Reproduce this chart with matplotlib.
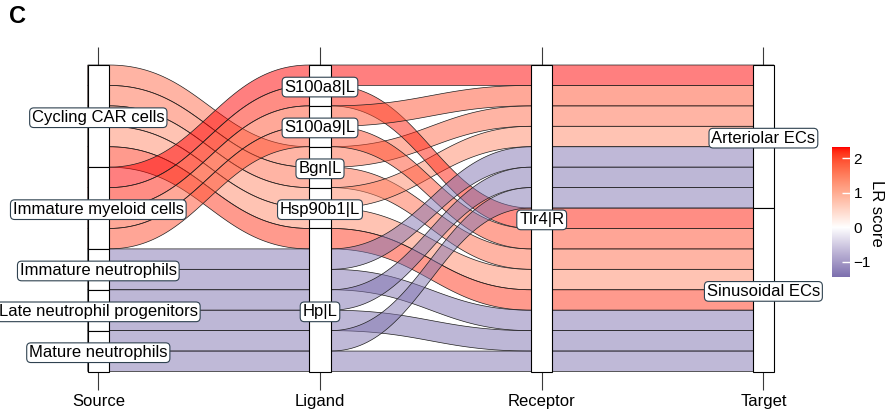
import numpy as np
import matplotlib
matplotlib.use("Agg")
import matplotlib.pyplot as plt
from matplotlib.patches import Polygon, Rectangle
from matplotlib.colors import ListedColormap, Normalize
from matplotlib.cm import ScalarMappable

plt.rcParams['font.family'] = ['Liberation Sans', 'DejaVu Sans']

# ---- data -------------------------------------------------------------
axis_titles = ["Source", "Ligand", "Receptor", "Target"]

sources = ["Cycling CAR cells", "Immature myeloid cells", "Immature neutrophils",
           "Late neutrophil progenitors", "Mature neutrophils"]
ligands = ["S100a8|L", "S100a9|L", "Bgn|L", "Hsp90b1|L", "Hp|L"]
receptors = ["Tlr4|R"]
targets = ["Arteriolar ECs", "Sinusoidal ECs"]

row_source = ["Cycling CAR cells"] * 5 + ["Immature myeloid cells"] * 4 + \
             ["Immature neutrophils"] * 2 + ["Late neutrophil progenitors"] * 2 + \
             ["Mature neutrophils"] * 2
row_ligand = ["Bgn|L", "Bgn|L", "Hsp90b1|L", "Hsp90b1|L", "Hp|L",
              "S100a8|L", "S100a8|L", "S100a9|L", "S100a9|L",
              "Hp|L", "Hp|L", "Hp|L", "Hp|L", "Hp|L", "Hp|L"]
row_receptor = ["Tlr4|R"] * 15
row_target = ["Arteriolar ECs", "Sinusoidal ECs", "Arteriolar ECs", "Sinusoidal ECs",
              "Sinusoidal ECs",
              "Arteriolar ECs", "Sinusoidal ECs", "Arteriolar ECs", "Sinusoidal ECs",
              "Arteriolar ECs", "Sinusoidal ECs", "Arteriolar ECs", "Sinusoidal ECs",
              "Arteriolar ECs", "Sinusoidal ECs"]
lr_score = [1.70, 1.70, 1.40, 1.40, 2.13,
            2.32, 2.25, 1.93, 1.97,
            -1.40, -1.40, -1.43, -1.43, -1.38, -1.38]
row_weight = [1] * 15

# ---- colour scale (Lab interpolation through white) ----------------------
_M = np.array([[0.4124564, 0.3575761, 0.1804375],
               [0.2126729, 0.7151522, 0.0721750],
               [0.0193339, 0.1191920, 0.9503041]])
_WP = np.array([0.95047, 1.0, 1.08883])


def srgb_to_lab(rgb):
    rgb = np.asarray(rgb, float)
    lin = np.where(rgb <= 0.04045, rgb / 12.92, ((rgb + 0.055) / 1.055) ** 2.4)
    xyz = lin @ _M.T / _WP
    d = 6 / 29
    f = np.where(xyz > d ** 3, np.cbrt(xyz), xyz / (3 * d ** 2) + 4 / 29)
    return np.stack([116 * f[..., 1] - 16,
                     500 * (f[..., 0] - f[..., 1]),
                     200 * (f[..., 1] - f[..., 2])], -1)


def lab_to_srgb(lab):
    lab = np.asarray(lab, float)
    fy = (lab[..., 0] + 16) / 116
    f = np.stack([fy + lab[..., 1] / 500, fy, fy - lab[..., 2] / 200], -1)
    d = 6 / 29
    xyz = np.where(f > d, f ** 3, 3 * d ** 2 * (f - 4 / 29)) * _WP
    lin = np.clip(xyz @ np.linalg.inv(_M).T, 0, 1)
    rgb = np.where(lin <= 0.0031308, 12.92 * lin, 1.055 * lin ** (1 / 2.4) - 0.055)
    return np.clip(rgb, 0, 1)


def hex_rgb(h):
    h = h.lstrip('#')
    return np.array([int(h[i:i + 2], 16) / 255 for i in (0, 2, 4)])


vmin, vmax = -1.43, 2.32
lab_low = srgb_to_lab(hex_rgb("#7d70ae"))
lab_mid = srgb_to_lab(hex_rgb("#ffffff"))
lab_high = srgb_to_lab(hex_rgb("#ff0000"))
vals = np.linspace(vmin, vmax, 512)
labs = []
for v in vals:
    if v < 0:
        t = v / vmin
        labs.append(lab_mid + t * (lab_low - lab_mid))
    else:
        t = v / vmax
        labs.append(lab_mid + t * (lab_high - lab_mid))
cmap = ListedColormap(lab_to_srgb(np.array(labs)))
norm = Normalize(vmin, vmax)

# ---- lode positions -------------------------------------------------------
n = len(lr_score)
si = [sources.index(s) for s in row_source]
li = [ligands.index(s) for s in row_ligand]
ri = [receptors.index(s) for s in row_receptor]
ti = [targets.index(s) for s in row_target]
sort_keys = [
    lambda r: (si[r], li[r], ri[r], ti[r]),
    lambda r: (li[r], si[r], ri[r], ti[r]),
    lambda r: (ri[r], ti[r], li[r], si[r]),
    lambda r: (ti[r], ri[r], li[r], si[r]),
]
top = np.zeros((4, n))
for a in range(4):
    cum = 0.0
    for r in sorted(range(n), key=sort_keys[a]):
        top[a, r] = cum
        cum += row_weight[r]
bot = top + np.array(row_weight)[None, :]
total = float(sum(row_weight))

axis_cats = [(sources, row_source), (ligands, row_ligand),
             (receptors, row_receptor), (targets, row_target)]

# ---- figure layout ----------------------------------------------------------
W, H = 893, 417
fig = plt.figure(figsize=(W / 100, H / 100), dpi=100)
x0_px, unit_px = 98.3, 221.7
top_px, bot_px = 65.0, 371.5
xlim = (-0.4, 3.15)
ax = fig.add_axes([(x0_px + xlim[0] * unit_px) / W, (H - bot_px) / H,
                   (xlim[1] - xlim[0]) * unit_px / W, (bot_px - top_px) / H])
ax.set_xlim(*xlim)
ax.set_ylim(total, 0)
ax.patch.set_visible(False)
for s in ax.spines.values():
    s.set_visible(False)

box_w = 0.095
knot = 0.45


def bez(xa, ya, xb, yb, num=60):
    if ya == yb:
        return np.array([[xa, ya], [xb, yb]])
    t = np.linspace(0, 1, num)
    dx = xb - xa
    p0 = np.array([xa, ya]); p1 = np.array([xa + knot * dx, ya])
    p2 = np.array([xb - knot * dx, yb]); p3 = np.array([xb, yb])
    pts = ((1 - t) ** 3)[:, None] * p0 + (3 * (1 - t) ** 2 * t)[:, None] * p1 + \
          (3 * (1 - t) * t ** 2)[:, None] * p2 + (t ** 3)[:, None] * p3
    return pts


def edge(ys):
    pts = [np.array([[0 - box_w / 2, ys[0]]])]
    for a in range(3):
        pts.append(bez(a + box_w / 2, ys[a], a + 1 - box_w / 2, ys[a + 1]))
    pts.append(np.array([[3 + box_w / 2, ys[3]]]))
    return np.vstack(pts)


# alluvia
for r in range(n):
    upper = edge(top[:, r])
    lower = edge(bot[:, r])[::-1]
    col = cmap(norm(lr_score[r]))
    poly = Polygon(np.vstack([upper, lower]), closed=True,
                   facecolor=(col[0], col[1], col[2], 0.5),
                   edgecolor="#1f1f1f", linewidth=0.5, zorder=2,
                   clip_on=False, snap=False)
    ax.add_patch(poly)

# strata and their labels
label_box = dict(boxstyle="round,pad=0.14,rounding_size=0.25", fc="white",
                 ec="#2f4250", lw=0.8)
label_nudge = {"Hp|L": 0.5}
for a, (cats, col_vals) in enumerate(axis_cats):
    for c in cats:
        rows = [r for r in range(n) if col_vals[r] == c]
        if not rows:
            continue
        y0 = min(top[a, r] for r in rows)
        y1 = max(bot[a, r] for r in rows)
        ax.add_patch(Rectangle((a - box_w / 2, y0), box_w, y1 - y0,
                               facecolor="white", edgecolor="black",
                               linewidth=0.8, zorder=3, clip_on=False))
        ax.text(a, (y0 + y1) / 2 + 0.08 + label_nudge.get(c, 0.0), c,
                ha="center", va="center", fontsize=12, zorder=5, bbox=label_box)

ax.set_yticks([])
ax.set_xticks(range(4))
ax.set_xticklabels(axis_titles, fontsize=12)
ax.tick_params(axis="x", which="both", top=True, bottom=True, labeltop=False,
               length=13, width=0.8, color="#3a3a3a", pad=3)

# colour bar
cax = fig.add_axes([832 / W, (H - 276.7) / H, 17.5 / W, 129.4 / H])
cb = fig.colorbar(ScalarMappable(norm=norm, cmap=cmap), cax=cax)
cb.outline.set_visible(False)
cb.set_ticks([-1, 0, 1, 2])
cax.tick_params(direction="in", color="white", length=6, width=1,
                labelsize=11, pad=3)
fig.text(876.5 / W, 1 - 213 / H, "LR score", rotation=270, ha="center",
         va="center", fontsize=12)

fig.text(9 / W, 1 - 5 / H, "C", fontsize=17, fontweight="bold",
         ha="left", va="top")

fig.savefig("out.png", dpi=100)
